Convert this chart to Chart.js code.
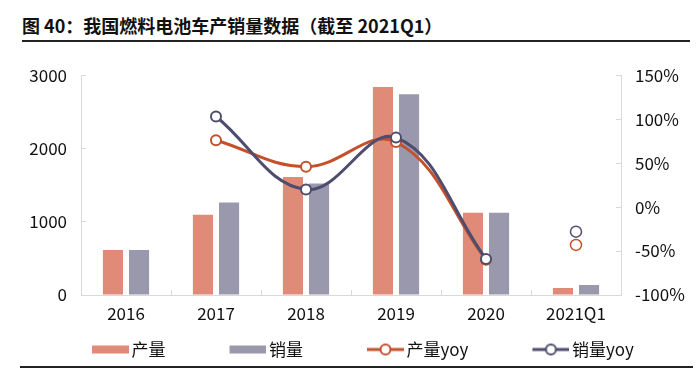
<!DOCTYPE html>
<html>
<head>
<meta charset="utf-8">
<script src="https://cdn.jsdelivr.net/npm/chart.js@4/dist/chart.umd.min.js"></script>
<style>
  body { margin: 0; width: 700px; height: 370px; background: #fff; overflow: hidden; position: relative; font-family: "Noto Sans CJK SC", sans-serif; }
  #title { position: absolute; left: 22px; top: 13px; width: 668px; font-size: 18px; font-weight: bold; color: #111; border-bottom: 2px solid #222; padding-bottom: 3px; line-height: 24px; }
  #bottomLine { position: absolute; left: 20px; top: 366px; width: 673px; height: 0; border-top: 2px solid #222; z-index: 2; }
  #wrap { position: absolute; left: 0; top: 46px; width: 700px; height: 324px; }
</style>
</head>
<body>
<div id="title">图 40：我国燃料电池车产销量数据（截至 2021Q1）</div>
<div id="wrap"><canvas id="chart"></canvas></div>
<div id="bottomLine"></div>
<script>
const categories = ['2016', '2017', '2018', '2019', '2020', '2021Q1'];
const production = [615, 1095, 1612, 2838, 1122, 95];
const sales = [615, 1262, 1523, 2739, 1122, 135];
// 同比 (%)，2021Q1 单独成点
const productionYoy = [null, 76, 46, 74, -60, null];
const salesYoy = [null, 103, 20, 79, -59, null];
const productionYoyQ1 = [null, null, null, null, null, -43];
const salesYoyQ1 = [null, null, null, null, null, -28];

const barOrange = '#DF8B77';
const barGray = '#9998AD';
const lineOrange = '#C4512B';
const lineGray = '#4E4D6D';

// 图例标记：左侧留白，标记画在右端
const markerW = 85;
function legendMarker(type, color) {
    const c = document.createElement('canvas');
    c.width = markerW + 12;
    c.height = 14;
    const g = c.getContext('2d');
    const x0 = c.width - 37;
    if (type === 'bar') {
        g.fillStyle = color;
        g.fillRect(x0, 3, 37, 8);
    } else {
        g.strokeStyle = color;
        g.lineWidth = 3;
        g.beginPath();
        g.moveTo(x0, 7);
        g.lineTo(x0 + 37, 7);
        g.stroke();
        g.fillStyle = '#fff';
        g.lineWidth = 2;
        g.beginPath();
        g.arc(x0 + 18.5, 7, 5, 0, Math.PI * 2);
        g.fill();
        g.stroke();
    }
    return c;
}
const markers = [
    legendMarker('bar', barOrange),
    legendMarker('bar', barGray),
    legendMarker('line', lineOrange),
    legendMarker('line', lineGray)
];

const ctx = document.getElementById('chart').getContext('2d');
const font = { family: '"Noto Sans CJK SC", sans-serif', size: 17 };

const myChart = new Chart(ctx, {
    data: {
        labels: categories,
        datasets: [
            { type: 'bar', label: '产量', data: production, backgroundColor: barOrange, yAxisID: 'y', order: 3, barPercentage: 0.77, categoryPercentage: 0.58 },
            { type: 'bar', label: '销量', data: sales, backgroundColor: barGray, yAxisID: 'y', order: 3, barPercentage: 0.77, categoryPercentage: 0.58 },
            { type: 'line', label: '产量yoy', data: productionYoy, borderColor: lineOrange, borderWidth: 3, tension: 0.4, pointRadius: 5, pointBorderWidth: 2, pointBackgroundColor: '#fff', pointBorderColor: lineOrange, yAxisID: 'y1', order: 2 },
            { type: 'line', label: '销量yoy', data: salesYoy, borderColor: lineGray, borderWidth: 3, tension: 0.4, pointRadius: 5, pointBorderWidth: 2, pointBackgroundColor: '#fff', pointBorderColor: lineGray, yAxisID: 'y1', order: 1 },
            { type: 'line', label: 'q1a', data: productionYoyQ1, showLine: false, pointRadius: 5.5, pointBorderWidth: 1.5, pointBackgroundColor: '#fff', pointBorderColor: lineOrange, yAxisID: 'y1', order: 2 },
            { type: 'line', label: 'q1b', data: salesYoyQ1, showLine: false, pointRadius: 5.5, pointBorderWidth: 1.5, pointBackgroundColor: '#fff', pointBorderColor: lineGray, yAxisID: 'y1', order: 1 }
        ]
    },
    options: {
        responsive: true,
        maintainAspectRatio: false,
        animation: false,
        layout: { padding: { left: 28, right: 0, top: 28, bottom: 2 } },
        scales: {
            x: {
                grid: { display: true, drawOnChartArea: false, drawTicks: true, tickLength: -5, color: '#d9d9d9' },
                border: { display: true, color: '#d9d9d9' },
                ticks: { color: '#111', font: font, padding: 13, maxRotation: 0 },
                afterFit: s => { s.height = 36; }
            },
            y: {
                position: 'left',
                min: 0, max: 3000,
                ticks: { stepSize: 1000, color: '#111', font: font, padding: 19, callback: v => String(v) },
                grid: { display: true, drawOnChartArea: false, drawTicks: true, tickLength: -5, color: '#d9d9d9' },
                border: { display: true, color: '#d9d9d9' },
                afterFit: s => { s.width = 53; }
            },
            y1: {
                position: 'right',
                min: -100, max: 150,
                ticks: { stepSize: 50, color: '#111', font: font, padding: 19, callback: v => v + '%' },
                grid: { display: true, drawOnChartArea: false, drawTicks: true, tickLength: -5, color: '#d9d9d9' },
                border: { display: true, color: '#d9d9d9' },
                afterFit: s => { s.width = 79; }
            }
        },
        plugins: {
            tooltip: { enabled: false },
            legend: {
                position: 'bottom',
                align: 'start',
                labels: {
                    color: '#111',
                    font: font,
                    padding: 10,
                    usePointStyle: true,
                    pointStyleWidth: markerW,
                    filter: item => item.datasetIndex < 4,
                    sort: (a, b) => a.datasetIndex - b.datasetIndex,
                    generateLabels: chart => chart.data.datasets.map((ds, i) => ({
                        text: ds.label,
                        datasetIndex: i,
                        pointStyle: markers[i] || 'circle',
                        fillStyle: '#fff',
                        strokeStyle: '#fff',
                        lineWidth: 0,
                        fontColor: '#111',
                        hidden: false
                    }))
                }
            }
        }
    }
});
</script>
</body>
</html>
